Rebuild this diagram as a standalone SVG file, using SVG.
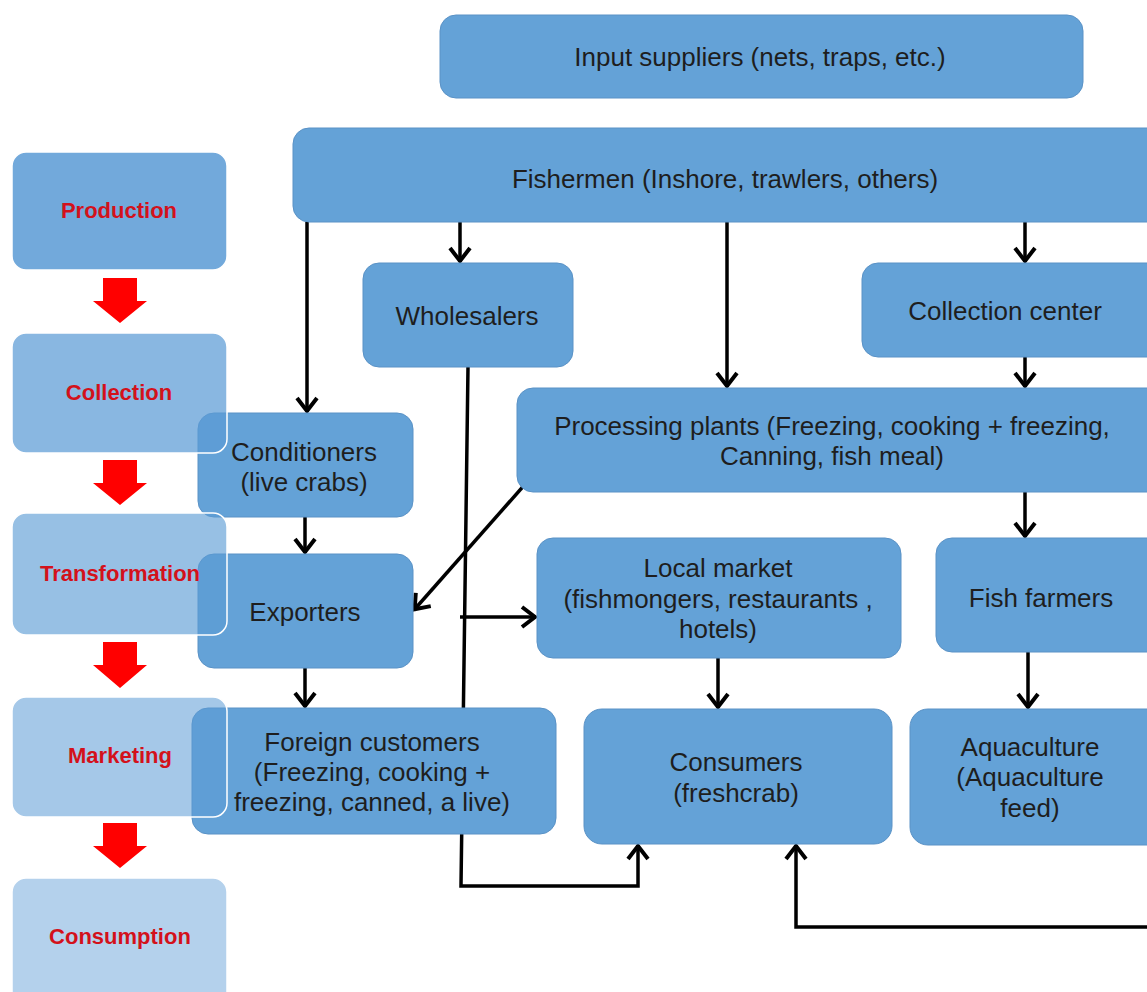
<svg xmlns="http://www.w3.org/2000/svg" width="1147" height="992" viewBox="0 0 1147 992">
  <style>
    .node { fill: #64a2d7; stroke: #5a92c6; stroke-width: 1; }
    .label { font-family: "Liberation Sans", Arial, sans-serif; font-size: 26px; fill: #1e1e1e; text-anchor: middle; }
    .stage { fill: #5b9bd5; stroke: #ffffff; stroke-width: 1.5; }
    .stage-label { font-family: "Liberation Sans", Arial, sans-serif; font-size: 22px; font-weight: bold; fill: #d3111b; text-anchor: middle; }
    .flow { fill: #ff0000; }
    .conn { fill: none; stroke: #000000; stroke-width: 3.5; }
  </style>
  <defs>
    <marker id="head" viewBox="-20 -14 24 28" markerWidth="24" markerHeight="28" refX="0" refY="0" orient="auto" markerUnits="userSpaceOnUse">
      <path d="M-14,-10 L-1,0 L-14,10" fill="none" stroke="#000" stroke-width="4" stroke-linejoin="miter"/>
    </marker>
  </defs>
  <rect width="1147" height="992" fill="#ffffff"/>

  <!-- connectors sit underneath the boxes -->
  <g id="connectors">
    <line class="conn" x1="307" y1="222" x2="307" y2="412" marker-end="url(#head)"/>
    <line class="conn" x1="460" y1="222" x2="460" y2="262" marker-end="url(#head)"/>
    <line class="conn" x1="727" y1="222" x2="727" y2="387" marker-end="url(#head)"/>
    <line class="conn" x1="1025" y1="222" x2="1025" y2="262" marker-end="url(#head)"/>
    <line class="conn" x1="1025" y1="357" x2="1025" y2="387" marker-end="url(#head)"/>
    <line class="conn" x1="1025" y1="492" x2="1025" y2="537" marker-end="url(#head)"/>
    <line class="conn" x1="1028" y1="652" x2="1028" y2="708" marker-end="url(#head)"/>
    <line class="conn" x1="718" y1="658" x2="718" y2="708" marker-end="url(#head)"/>
    <line class="conn" x1="305" y1="517" x2="305" y2="553" marker-end="url(#head)"/>
    <line class="conn" x1="305" y1="668" x2="305" y2="707" marker-end="url(#head)"/>
    <line class="conn" x1="527" y1="482" x2="414" y2="610" marker-end="url(#head)"/>
    <line class="conn" x1="460" y1="617" x2="536" y2="617" marker-end="url(#head)"/>
    <polyline class="conn" points="468,367 461,886 638,886 638,845" marker-end="url(#head)"/>
    <polyline class="conn" points="1147,927 796,927 796,845" marker-end="url(#head)"/>
  </g>

  <!-- chain nodes -->
  <g id="input-suppliers">
    <rect class="node" x="440" y="15" width="643" height="83" rx="16"/>
    <text class="label" x="760" y="66">Input suppliers (nets, traps, etc.)</text>
  </g>
  <g id="fishermen">
    <rect class="node" x="293" y="128" width="880" height="94" rx="16"/>
    <text class="label" x="725" y="188">Fishermen (Inshore, trawlers, others)</text>
  </g>
  <g id="wholesalers">
    <rect class="node" x="363" y="263" width="210" height="104" rx="16"/>
    <text class="label" x="467" y="325">Wholesalers</text>
  </g>
  <g id="collection-center">
    <rect class="node" x="862" y="263" width="310" height="94" rx="16"/>
    <text class="label" x="1005" y="320">Collection center</text>
  </g>
  <g id="processing-plants">
    <rect class="node" x="517" y="388" width="655" height="104" rx="16"/>
    <text class="label" x="832" y="435">Processing plants (Freezing, cooking + freezing,</text>
    <text class="label" x="832" y="465">Canning, fish meal)</text>
  </g>
  <g id="conditioners">
    <rect class="node" x="198" y="413" width="215" height="104" rx="16"/>
    <text class="label" x="304" y="461">Conditioners</text>
    <text class="label" x="304" y="491">(live crabs)</text>
  </g>
  <g id="exporters">
    <rect class="node" x="198" y="554" width="215" height="114" rx="16"/>
    <text class="label" x="305" y="621">Exporters</text>
  </g>
  <g id="local-market">
    <rect class="node" x="537" y="538" width="364" height="120" rx="16"/>
    <text class="label" x="718" y="577">Local market</text>
    <text class="label" x="718" y="608">(fishmongers, restaurants ,</text>
    <text class="label" x="718" y="638">hotels)</text>
  </g>
  <g id="fish-farmers">
    <rect class="node" x="936" y="538" width="236" height="114" rx="16"/>
    <text class="label" x="1041" y="607">Fish farmers</text>
  </g>
  <g id="foreign-customers">
    <rect class="node" x="192" y="708" width="364" height="126" rx="16"/>
    <text class="label" x="372" y="751">Foreign customers</text>
    <text class="label" x="372" y="781">(Freezing, cooking +</text>
    <text class="label" x="372" y="811">freezing, canned, a live)</text>
  </g>
  <g id="consumers">
    <rect class="node" x="584" y="709" width="308" height="135" rx="18"/>
    <text class="label" x="736" y="771">Consumers</text>
    <text class="label" x="736" y="802">(freshcrab)</text>
  </g>
  <g id="aquaculture">
    <rect class="node" x="910" y="709" width="262" height="136" rx="18"/>
    <text class="label" x="1030" y="756">Aquaculture</text>
    <text class="label" x="1030" y="786">(Aquaculture</text>
    <text class="label" x="1030" y="817">feed)</text>
  </g>

  <!-- value-chain stages -->
  <g id="stage-production">
    <rect class="stage" x="12" y="152" width="215" height="118" rx="14" fill-opacity="0.86"/>
    <text class="stage-label" x="119" y="218">Production</text>
  </g>
  <g id="stage-collection">
    <rect class="stage" x="12" y="333" width="215" height="120" rx="14" fill-opacity="0.72"/>
    <text class="stage-label" x="119" y="400">Collection</text>
  </g>
  <g id="stage-transformation">
    <rect class="stage" x="12" y="513" width="215" height="122" rx="14" fill-opacity="0.63"/>
    <text class="stage-label" x="120" y="581">Transformation</text>
  </g>
  <g id="stage-marketing">
    <rect class="stage" x="12" y="697" width="215" height="120" rx="14" fill-opacity="0.55"/>
    <text class="stage-label" x="120" y="763">Marketing</text>
  </g>
  <g id="stage-consumption">
    <rect class="stage" x="12" y="878" width="215" height="130" rx="14" fill-opacity="0.46"/>
    <text class="stage-label" x="120" y="944">Consumption</text>
  </g>

  <!-- stage flow arrows -->
  <g id="stage-arrows">
    <polygon class="flow" points="103,278 137,278 137,301 147,301 120,323 93,301 103,301"/>
    <polygon class="flow" points="103,460 137,460 137,483 147,483 120,505 93,483 103,483"/>
    <polygon class="flow" points="103,642 137,642 137,665 147,665 120,688 93,665 103,665"/>
    <polygon class="flow" points="103,823 137,823 137,846 147,846 120,868 93,846 103,846"/>
  </g>
</svg>
